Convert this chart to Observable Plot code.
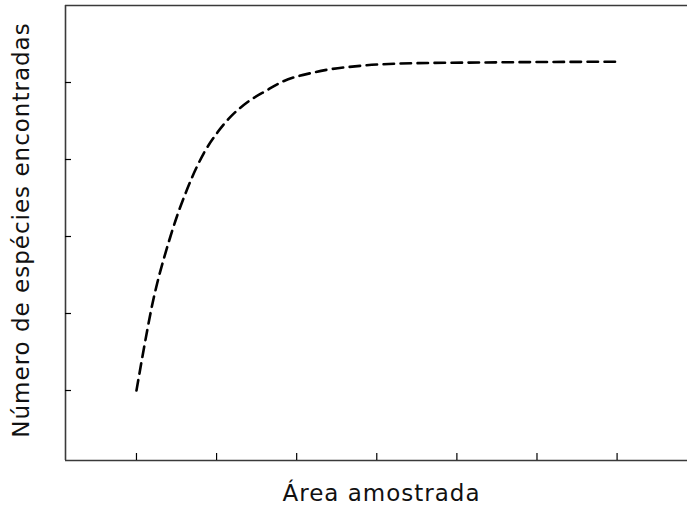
<!DOCTYPE html>
<html>
<head>
<meta charset="utf-8">
<script src="https://cdn.jsdelivr.net/npm/d3@7"></script>
<script src="https://cdn.jsdelivr.net/npm/@observablehq/plot@0.6"></script>
<style>
  html, body { margin: 0; padding: 0; background: #fff; }
</style>
</head>
<body>
<div id="chart"></div>
<script>
const xLabel = "Área amostrada";
const yLabel = "Número de espécies encontradas";
const xTicks = [0, 1, 2, 3, 4, 5, 6];
const yTicks = [0, 1, 2, 3, 4];
const areaX    = [0, 0.071, 0.134, 0.196, 0.258, 0.341, 0.424, 0.508, 0.612, 0.695, 0.84, 1.01, 1.17, 1.38, 1.63, 1.80, 2.21, 2.83, 3.46, 4.29, 6.0];
const speciesY = [0, 0.42, 0.78, 1.11, 1.39, 1.71, 2.00, 2.27, 2.56, 2.77, 3.08, 3.35, 3.55, 3.74, 3.90, 4.00, 4.13, 4.22, 4.25, 4.26, 4.27];
const xDomain = [-0.886, 6.879];
const yDomain = [-0.909, 5.0];

const curve = areaX.map((x, i) => ({x, y: speciesY[i]}));

const chart = Plot.plot({
  width: 687,
  height: 505,
  marginLeft: 65,
  marginRight: 0,
  marginTop: 5,
  marginBottom: 45,
  x: {domain: xDomain, axis: null},
  y: {domain: yDomain, axis: null},
  style: "font-family: 'DejaVu Sans', sans-serif; letter-spacing: 1px; background: #fff; overflow: visible;",
  marks: [
    Plot.ruleY([yDomain[0], yDomain[1]], {stroke: "#3a3a3a", strokeWidth: 1.6}),
    Plot.ruleX([xDomain[0]], {stroke: "#3a3a3a", strokeWidth: 1.6}),
    Plot.ruleX(xTicks, {x: d => d, y1: yDomain[0], y2: yDomain[0], insetTop: -7, stroke: "#000", strokeWidth: 1.2}),
    Plot.ruleY(yTicks, {y: d => d, x1: xDomain[0], x2: xDomain[0], insetRight: -6, stroke: "#000", strokeWidth: 1.2}),
    Plot.line(curve, {x: "x", y: "y", stroke: "#000", strokeWidth: 2.6, strokeDasharray: "10.5,6.5", curve: "monotone-x"}),
    Plot.text([xLabel], {frameAnchor: "bottom", dy: 40, dx: 5, lineAnchor: "bottom", fontSize: 23, fill: "#111"}),
    Plot.text([yLabel], {frameAnchor: "left", dx: -37, dy: -3, rotate: -90, textAnchor: "middle", lineAnchor: "bottom", fontSize: 23, fill: "#111"})
  ]
});
document.getElementById("chart").appendChild(chart);
</script>
</body>
</html>
